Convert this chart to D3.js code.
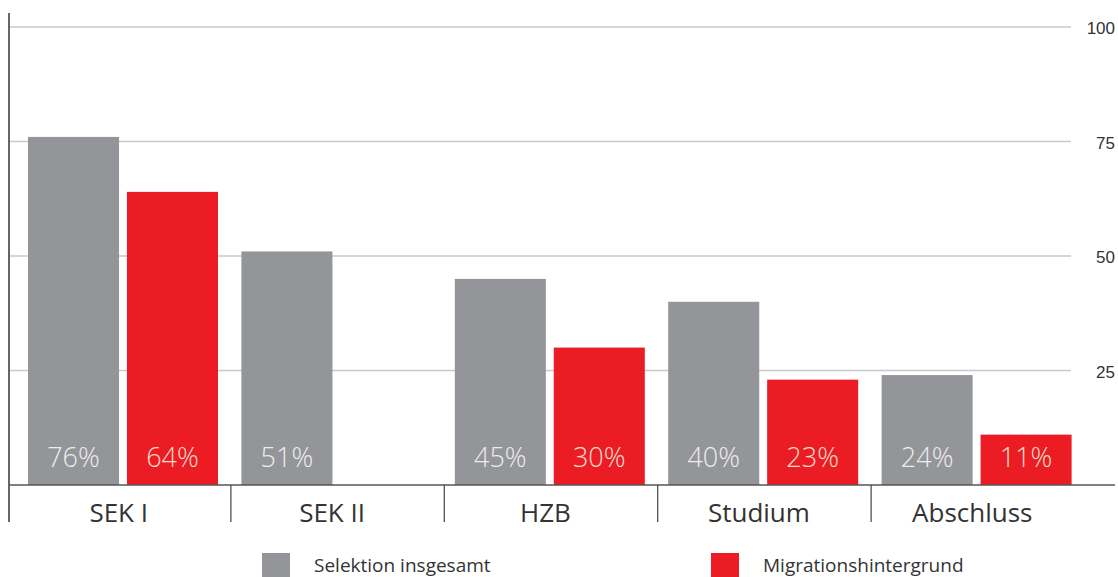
<!DOCTYPE html>
<html>
<head>
<meta charset="utf-8">
<script src="https://cdn.jsdelivr.net/npm/d3@7"></script>
<style>
  body { margin: 0; background: #fff; }
  svg { display: block; font-family: "Open Sans", sans-serif; }
</style>
</head>
<body>
<div id="chart"></div>
<script>
// data
var categories = ["SEK I", "SEK II", "HZB", "Studium", "Abschluss"];
var seriesNames = ["Selektion insgesamt", "Migrationshintergrund"];
var totalValues = [76, 51, 45, 40, 24];
var migrationValues = [64, null, 30, 23, 11];
var yTicks = [25, 50, 75, 100];

var svgWidth = 1118;
var svgHeight = 577;
var colors = ["#939598", "#ec1c24"];
var labelColors = ["#ededed", "#f9dccb"];

var svg = d3.select("#chart")
  .append("svg")
  .attr("width", svgWidth)
  .attr("height", svgHeight);

// scales
var yScale = d3.scaleLinear()
  .domain([0, 100])
  .range([485, 27]);

var x0 = d3.scaleBand()
  .domain(categories)
  .range([16, 1083]);

var x1 = d3.scaleBand()
  .domain(seriesNames)
  .range([12, 202])
  .paddingInner(0.08);

// gridlines
svg.append("g")
  .selectAll("line")
  .data(yTicks)
  .enter()
  .append("line")
  .attr("x1", 9)
  .attr("x2", 1071)
  .attr("y1", d => yScale(d))
  .attr("y2", d => yScale(d))
  .attr("stroke", "#c9c9c9")
  .attr("stroke-width", 1.5);

// right axis labels
var rightAxis = d3.axisRight(yScale)
  .tickValues(yTicks)
  .tickSize(0)
  .tickPadding(0);

var rightG = svg.append("g")
  .attr("transform", "translate(1115,0)")
  .attr("font-size", 17)
  .attr("font-family", "Open Sans, sans-serif")
  .call(rightAxis);
rightG.select(".domain").remove();
rightG.selectAll("text")
  .attr("text-anchor", "end")
  .style("font-size", "17px")
  .attr("fill", "#333")
  .attr("dy", "0.4em");

// bars
var rows = categories.map(function (c, i) {
  return { cat: c, vals: [totalValues[i], migrationValues[i]] };
});

var groups = svg.append("g")
  .selectAll("g")
  .data(rows)
  .enter()
  .append("g")
  .attr("transform", d => `translate(${x0(d.cat)},0)`);

var cells = groups.selectAll("g")
  .data(d => d.vals.map((v, j) => ({ key: seriesNames[j], v: v, j: j })).filter(e => e.v !== null))
  .enter()
  .append("g");

cells.append("rect")
  .attr("x", d => x1(d.key))
  .attr("y", d => yScale(d.v))
  .attr("width", x1.bandwidth())
  .attr("height", d => yScale(0) - yScale(d.v))
  .attr("fill", d => colors[d.j]);

cells.append("text")
  .attr("x", d => x1(d.key) + x1.bandwidth() / 2)
  .attr("y", 467)
  .attr("text-anchor", "middle")
  .attr("font-size", "27px")
  .attr("font-weight", 300)
  .attr("fill", d => labelColors[d.j])
  .text(d => d.v + "%");

// left axis line
svg.append("line")
  .attr("x1", 9).attr("x2", 9)
  .attr("y1", 13).attr("y2", 522)
  .attr("stroke", "#333")
  .attr("stroke-width", 1.5);

// baseline
svg.append("line")
  .attr("x1", 9).attr("x2", 1115)
  .attr("y1", yScale(0)).attr("y2", yScale(0))
  .attr("stroke", "#555")
  .attr("stroke-width", 1.5);

// category separators
svg.append("g")
  .selectAll("line")
  .data(categories.slice(1))
  .enter()
  .append("line")
  .attr("x1", d => x0(d) + 1.5)
  .attr("x2", d => x0(d) + 1.5)
  .attr("y1", yScale(0))
  .attr("y2", 522)
  .attr("stroke", "#444")
  .attr("stroke-width", 1.2);

// category labels
svg.append("g")
  .selectAll("text")
  .data(categories)
  .enter()
  .append("text")
  .attr("x", d => x0(d) + x0.bandwidth() / 2 - 4)
  .attr("y", 522)
  .attr("text-anchor", "middle")
  .attr("font-size", "26px")
  .attr("fill", "#333")
  .text(d => d);

// legend
var legendX = [262, 711];
var legend = svg.append("g")
  .selectAll("g")
  .data(seriesNames)
  .enter()
  .append("g")
  .attr("transform", (d, i) => `translate(${legendX[i]},553)`);

legend.append("rect")
  .attr("width", 28)
  .attr("height", 28)
  .attr("fill", (d, i) => colors[i]);

legend.append("text")
  .attr("x", 52)
  .attr("y", 19)
  .attr("font-size", "19px")
  .attr("fill", "#333")
  .text(d => d);
</script>
</body>
</html>
